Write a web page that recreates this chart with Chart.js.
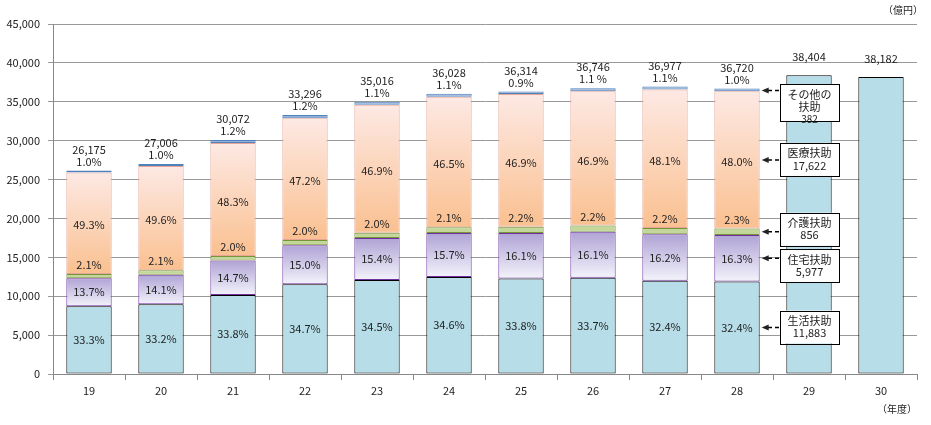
<!DOCTYPE html>
<html>
<head>
<meta charset="utf-8">
<script src="https://cdn.jsdelivr.net/npm/chart.js@4.4.0/dist/chart.umd.min.js"></script>
<style>
    html, body { margin: 0; padding: 0; background: #fff; }
    #wrap { width: 931px; height: 425px; position: relative; }
</style>
</head>
<body>
<div id="wrap"><canvas id="chart"></canvas></div>
<script>
// 年度
var years = ['19', '20', '21', '22', '23', '24', '25', '26', '27', '28', '29', '30'];

// 扶助別 (億円)
var seikatsu = [8716, 8966, 10164, 11554, 12081, 12466, 12274, 12383, 11981, 11883, null, null];
var jutaku = [3586, 3808, 4421, 4994, 5392, 5656, 5847, 5916, 5990, 5977, null, null];
var kaigo = [550, 567, 601, 666, 700, 757, 799, 808, 813, 856, null, null];
var iryo = [13061, 13395, 14525, 15682, 16458, 16753, 17067, 17235, 17786, 17622, null, null];
var sonota = [262, 270, 361, 400, 385, 396, 327, 404, 407, 382, null, null];
var yosan = [null, null, null, null, null, null, null, null, null, null, 38404, 38182];
var totals = [26175, 27006, 30072, 33296, 35016, 36028, 36314, 36746, 36977, 36720, 38404, 38182];

// 構成比ラベル
var pctSeikatsu = ['33.3%', '33.2%', '33.8%', '34.7%', '34.5%', '34.6%', '33.8%', '33.7%', '32.4%', '32.4%'];
var pctJutaku = ['13.7%', '14.1%', '14.7%', '15.0%', '15.4%', '15.7%', '16.1%', '16.1%', '16.2%', '16.3%'];
var pctKaigo = ['2.1%', '2.1%', '2.0%', '2.0%', '2.0%', '2.1%', '2.2%', '2.2%', '2.2%', '2.3%'];
var pctIryo = ['49.3%', '49.6%', '48.3%', '47.2%', '46.9%', '46.5%', '46.9%', '46.9%', '48.1%', '48.0%'];
var pctSonota = ['1.0%', '1.0%', '1.2%', '1.2%', '1.1%', '1.1%', '0.9%', '1.1 %', '1.1%', '1.0%'];

// 吹き出し (28年度)
var calloutNames = [['その他の', '扶助'], ['医療扶助'], ['介護扶助'], ['住宅扶助'], ['生活扶助']];
var calloutSets = [4, 3, 2, 1, 0];

var FONT = '"Noto Sans CJK JP", "Noto Sans", sans-serif';
var stacks = [seikatsu, jutaku, kaigo, iryo, sonota];

function fmt(v) {
    return v.toLocaleString('en-US');
}

// gradient fill for one segment, from the y scale
function segGradient(setIndex, topColor, bottomColor) {
    return function (ctx) {
        var chart = ctx.chart;
        var y = chart.scales.y;
        if (!chart.chartArea || !y || ctx.type !== 'data') return bottomColor;
        var i = ctx.dataIndex;
        var base = 0;
        for (var k = 0; k < setIndex; k++) base += stacks[k][i] || 0;
        var top = base + (stacks[setIndex][i] || 0);
        var y0 = y.getPixelForValue(top), y1 = y.getPixelForValue(base);
        if (!isFinite(y0) || !isFinite(y1) || y0 === y1) return bottomColor;
        var g = chart.ctx.createLinearGradient(0, y0, 0, y1);
        g.addColorStop(0, topColor);
        g.addColorStop(1, bottomColor);
        return g;
    };
}

var labelPlugin = {
    id: 'labels',
    afterDatasetsDraw: function (chart) {
        var c = chart.ctx;
        c.save();
        c.font = '11px ' + FONT;
        c.fillStyle = '#222';
        c.textAlign = 'center';
        c.textBaseline = 'middle';
        var m0 = chart.getDatasetMeta(0).data,
            m1 = chart.getDatasetMeta(1).data,
            m2 = chart.getDatasetMeta(2).data,
            m3 = chart.getDatasetMeta(3).data,
            m4 = chart.getDatasetMeta(4).data,
            m5 = chart.getDatasetMeta(5).data;
        for (var i = 0; i < years.length; i++) {
            if (i < 10) {
                var x = m0[i].x;
                c.fillText(pctSeikatsu[i], x, (m0[i].y + m0[i].base) / 2);
                c.fillText(pctJutaku[i], x, (m1[i].y + m1[i].base) / 2);
                c.fillText(pctKaigo[i], x, m2[i].y - 9);
                c.fillText(pctIryo[i], x, (m3[i].y + m3[i].base) / 2 + 2);
                c.fillText(pctSonota[i], x, m4[i].y - 9);
                c.fillText(fmt(totals[i]), x, m4[i].y - 21);
            } else {
                c.fillText(fmt(totals[i]), m5[i].x, m5[i].y - 18);
            }
        }

        // callouts pointing at 28年度
        var boxOffsets = [-6, -17, -19, -9, -17];
        var boxX = m5[10].x - 29, boxW = 59;
        for (var j = 0; j < calloutSets.length; j++) {
            var el = chart.getDatasetMeta(calloutSets[j]).data[9];
            var ay = j === 0 ? el.y + 2 : (el.y + el.base) / 2;
            var tipX = el.x + el.width / 2 + 2;
            var lines = calloutNames[j].concat([fmt(stacks[calloutSets[j]][9])]);
            var boxH = lines.length * 12 + 9;
            var boxY = ay + boxOffsets[j];
            if (j === 0) boxH = 37;
            c.fillStyle = '#fff';
            c.fillRect(boxX, boxY, boxW, boxH);
            c.strokeStyle = '#000';
            c.lineWidth = 1;
            c.strokeRect(boxX + 0.5, Math.round(boxY) + 0.5, boxW, boxH);
            c.fillStyle = '#222';
            for (var l = 0; l < lines.length; l++) {
                c.font = (l === lines.length - 1 && j === 0 ? '10px ' : '11px ') + FONT;
                c.fillText(lines[l], boxX + boxW / 2, boxY + 10 + l * 12.5);
            }
            // dashed arrow
            c.beginPath();
            c.setLineDash([4, 3]);
            c.lineWidth = 1.5;
            c.moveTo(boxX - 1, ay);
            c.lineTo(tipX + 5, ay);
            c.stroke();
            c.setLineDash([]);
            c.beginPath();
            c.moveTo(tipX, ay);
            c.lineTo(tipX + 7, ay - 3);
            c.lineTo(tipX + 7, ay + 3);
            c.closePath();
            c.fill();
        }

        // units
        c.font = '10px ' + FONT;
        c.fillStyle = '#222';
        c.fillText('（億円）', 903, 10);
        c.fillText('（年度）', 897, 409);
        c.restore();
    }
};

var ctx = document.getElementById('chart');
new Chart(ctx, {
    type: 'bar',
    data: {
        labels: years,
        datasets: [
            {
                label: '生活扶助',
                data: seikatsu,
                backgroundColor: '#B7DEE8',
                borderColor: '#000',
                borderWidth: 1
            },
            {
                label: '住宅扶助',
                data: jutaku,
                backgroundColor: segGradient(1, '#AFA3D5', '#F3F3FB'),
                borderColor: '#7030A0',
                borderWidth: 1
            },
            {
                label: '介護扶助',
                data: kaigo,
                backgroundColor: '#C4D79B',
                borderColor: '#77933C',
                borderWidth: 1
            },
            {
                label: '医療扶助',
                data: iryo,
                backgroundColor: segGradient(3, '#FDE9E4', '#FAC090'),
                borderColor: '#E6A596',
                borderWidth: 1
            },
            {
                label: 'その他の扶助',
                data: sonota,
                backgroundColor: '#95B3D7',
                borderColor: '#4F81BD',
                borderWidth: 1
            },
            {
                label: '予算',
                data: yosan,
                backgroundColor: '#B7DEE8',
                borderColor: '#000',
                borderWidth: 1
            }
        ]
    },
    options: {
        responsive: true,
        maintainAspectRatio: false,
        animation: false,
        layout: { padding: { top: 24, right: 14, left: 0, bottom: 0 } },
        datasets: {
            bar: {
                categoryPercentage: 1,
                barPercentage: 0.63,
                borderSkipped: false
            }
        },
        plugins: {
            legend: { display: false },
            tooltip: { enabled: false }
        },
        scales: {
            x: {
                stacked: true,
                grid: {
                    display: true,
                    drawOnChartArea: false,
                    color: '#888',
                    tickLength: 6,
                    offset: true
                },
                border: { color: '#888' },
                ticks: {
                    padding: 4,
                    color: '#222',
                    font: { size: 11, family: FONT }
                },
                afterFit: function (axis) { axis.height = 51; }
            },
            y: {
                stacked: true,
                min: 0,
                max: 45000,
                grid: { color: '#999', tickLength: 5 },
                border: { color: '#888' },
                ticks: {
                    stepSize: 5000,
                    padding: 8,
                    color: '#222',
                    font: { size: 11, family: FONT },
                    callback: function (v) { return fmt(v); }
                },
                afterFit: function (axis) { axis.width = 53; }
            }
        }
    },
    plugins: [labelPlugin]
});
</script>
</body>
</html>
